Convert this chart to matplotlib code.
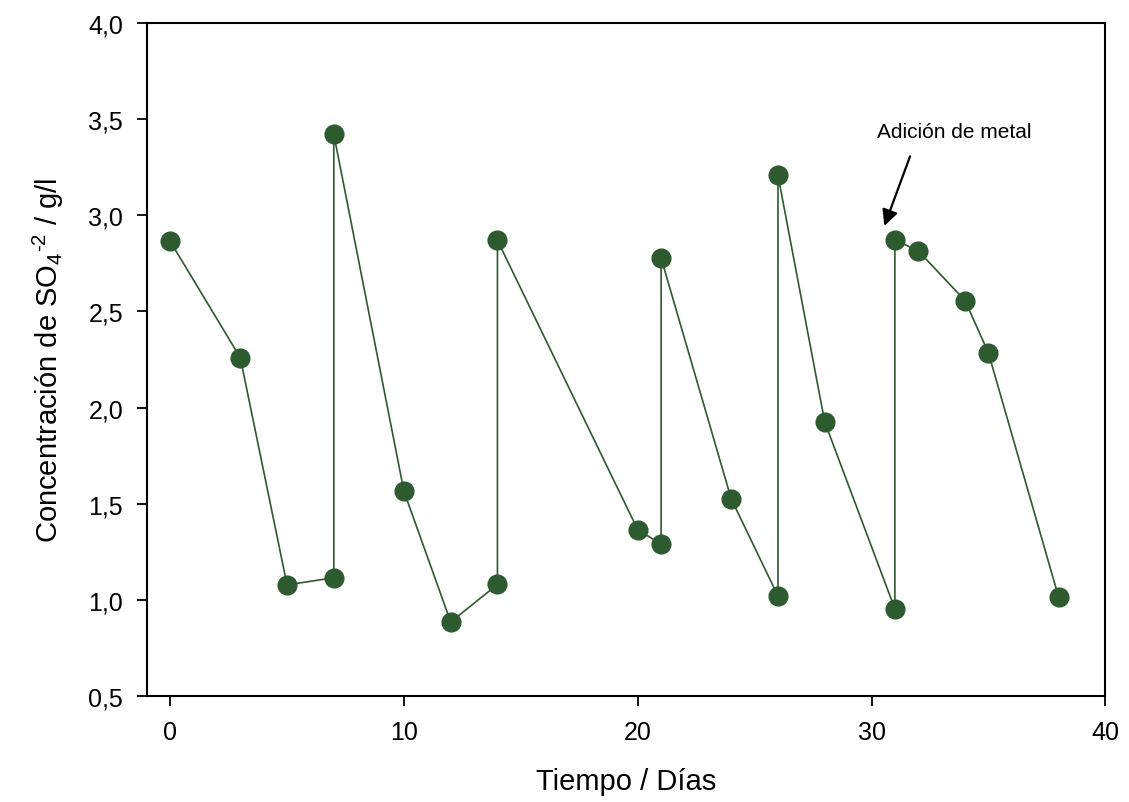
import matplotlib
matplotlib.use("Agg")
import matplotlib.pyplot as plt
from matplotlib.ticker import FuncFormatter

days = [0, 3, 5, 7, 7, 10, 12, 14, 14, 20, 21, 21, 24, 26, 26, 28, 31, 31, 32, 34, 35, 38]
sulfate = [2.865, 2.26, 1.078, 1.115, 3.422, 1.565, 0.885, 1.08, 2.87, 1.365, 1.29,
           2.778, 1.525, 1.02, 3.208, 1.925, 0.953, 2.872, 2.815, 2.557, 2.285, 1.016]
x_ticks = [0, 10, 20, 30, 40]
y_ticks = [0.5, 1.0, 1.5, 2.0, 2.5, 3.0, 3.5, 4.0]

plt.rcParams['font.family'] = ['Liberation Sans', 'DejaVu Sans']
plt.rcParams['mathtext.fontset'] = 'custom'
plt.rcParams['mathtext.rm'] = 'Liberation Sans'
plt.rcParams['mathtext.it'] = 'Liberation Sans'

fig = plt.figure(figsize=(11.29, 8.03), dpi=100)
ax = fig.add_axes([0.130, 0.132, 0.849, 0.838])
color = '#2d5a2f'
ax.plot(days, sulfate, color=color, lw=1.2, marker='o', markersize=13.5,
        markerfacecolor=color, markeredgecolor=color, zorder=3)

ax.set_xlim(-1, 40)
ax.set_ylim(0.5, 4.0)
ax.set_xticks(x_ticks)
ax.set_yticks(y_ticks)
ax.yaxis.set_major_formatter(FuncFormatter(lambda v, p: f"{v:.1f}".replace('.', ',')))
ax.tick_params(direction='out', length=7, width=1.3, labelsize=18, pad=10)
for s in ax.spines.values():
    s.set_linewidth(1.5)

ax.set_xlabel('Tiempo / Días', fontsize=21, labelpad=17)
ax.set_ylabel(r'Concentración de SO$_4$$^{\text{-2}}$ / g/l', fontsize=21, labelpad=16)

ax.text(33.55, 3.435, 'Adición de metal', ha='center', va='center', fontsize=15)
ax.annotate('', xy=(30.55, 2.945), xytext=(31.65, 3.307),
            arrowprops=dict(arrowstyle='-|>', color='black', lw=1.6,
                            mutation_scale=24, shrinkA=0, shrinkB=0))

fig.savefig('out.png', dpi=100)
